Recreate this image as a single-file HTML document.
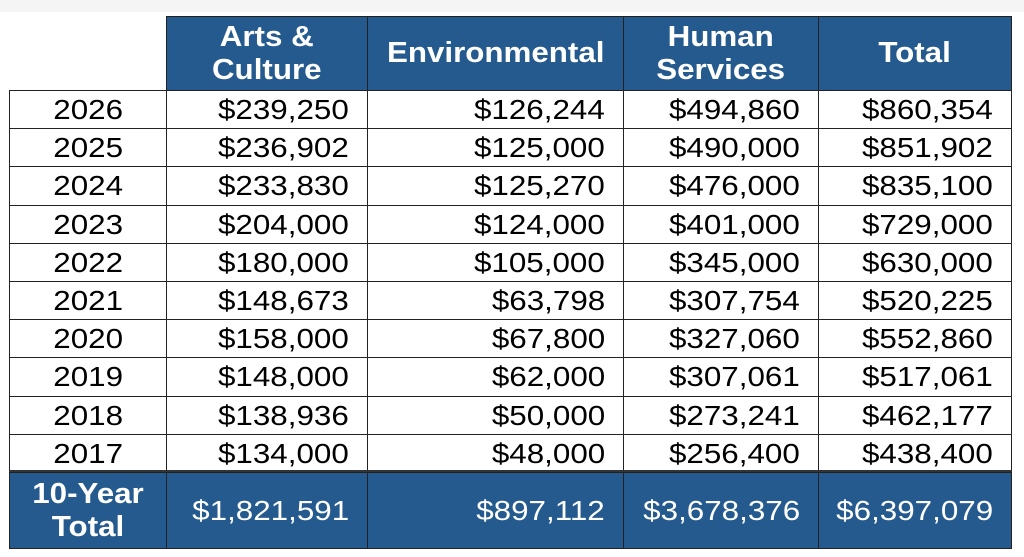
<!DOCTYPE html><html><head><style>
body{margin:0;width:1024px;height:557px;background:#fff;position:relative;overflow:hidden;font-family:"Liberation Sans",Arial,sans-serif}
.c{position:absolute;box-sizing:border-box;display:flex;align-items:center;border:1.5px solid #222}
.c span{display:inline-block;transform:scaleX(1.12)}
.h{background:#255a8e;color:#fff;font-weight:bold;font-size:29px;line-height:33px;justify-content:center;text-align:center}
.h span{transform:scaleX(1.08);transform-origin:center}
.d{color:#000;font-size:28px;justify-content:flex-end;padding-right:18px}
.d span,.f span{transform-origin:right center}
.y{justify-content:center;padding:0}
.c.y span{transform-origin:center}
.f{background:#255a8e;color:#fff;font-size:28px;justify-content:flex-end;padding-right:18px}
.lab{position:absolute;left:9px;top:472px;width:158px;height:77px;box-sizing:border-box;border:1.5px solid #222;background:#255a8e;color:#fff;font-weight:bold;font-size:29px;line-height:33px;text-align:center;padding-top:5px}
.lab div{transform:scaleX(1.08)}
</style></head><body>
<div style="position:absolute;left:0;top:0;width:1024px;height:12px;background:#f5f5f5"></div>
<div id="t"></div>
<div class="lab"><div>10-Year</div><div>Total</div></div>
<script>
var cols=[9,166,367,623,818,1011];
var H=["","Arts &amp;<br>Culture","Environmental","Human<br>Services","Total"];
var rows=[["2026","$239,250","$126,244","$494,860","$860,354"],["2025","$236,902","$125,000","$490,000","$851,902"],["2024","$233,830","$125,270","$476,000","$835,100"],["2023","$204,000","$124,000","$401,000","$729,000"],["2022","$180,000","$105,000","$345,000","$630,000"],["2021","$148,673","$63,798","$307,754","$520,225"],["2020","$158,000","$67,800","$327,060","$552,860"],["2019","$148,000","$62,000","$307,061","$517,061"],["2018","$138,936","$50,000","$273,241","$462,177"],["2017","$134,000","$48,000","$256,400","$438,400"]];
var s="";
function cell(cls,x0,x1,y0,y1,t){s+='<div class="c '+cls+'" style="left:'+x0+'px;top:'+y0+'px;width:'+(x1-x0+1)+'px;height:'+(y1-y0+1)+'px"><span>'+t+'</span></div>';}
for(var i=1;i<5;i++)cell("h",cols[i],cols[i+1],16,90,H[i]);
var rh=38.2;
for(var r=0;r<10;r++){var y0=Math.round(90+r*rh),y1=Math.round(90+(r+1)*rh);
for(var i=0;i<5;i++)cell(i==0?"d y":"d",cols[i],cols[i+1],y0,y1,rows[r][i]);}
var ft=["","$1,821,591","$897,112","$3,678,376","$6,397,079"];
for(var i=1;i<5;i++)cell("f",cols[i],cols[i+1],472,548,ft[i]);
s+='<div style="position:absolute;left:9px;top:470px;width:1003px;height:2px;background:#333"></div>';
document.getElementById("t").innerHTML=s;
</script>
</body></html>
